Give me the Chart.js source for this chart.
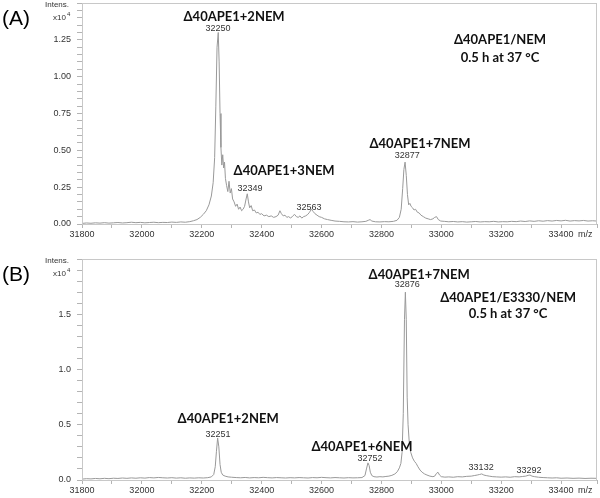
<!DOCTYPE html>
<html>
<head>
<meta charset="utf-8">
<script src="https://cdn.jsdelivr.net/npm/chart.js@4/dist/chart.umd.min.js"></script>
<style>
  body { margin: 0; background: #fff; }
  #wrap { position: relative; width: 600px; height: 498px; }
  #wrap canvas { position: absolute; left: 0; }
</style>
</head>
<body>
<div id="wrap">
  <canvas id="specA" width="600" height="249" style="top:0"></canvas>
  <canvas id="specB" width="600" height="242" style="top:256px"></canvas>
</div>
<script>
// spectrum (A): m/z and intensity (x10^4)
var mzA = [31800,31815,31830,31845,31860,31875,31890,31905,31920,31935,31950,31965,31980,31995,32010,32025,32040,32055,32070,32085,
  32100,32115,32130,32145,32160,32172,32184,32195,32205,32215,32224,32232,32238,32243,32247,32251,32255,32258,32261,32264,
  32267,32270,32273,32276,32279,32283,32287,32291,32295,32299,32303,32308,32313,32318,32323,32328,32333,32338,32343,32348,
  32352,32356,32360,32365,32370,32376,32382,32388,32394,32400,32408,32416,32424,32432,32440,32448,32455,32461,32466,32472,
  32478,32484,32490,32497,32504,32510,32516,32522,32528,32534,32540,32547,32554,32560,32566,32572,32578,32585,32592,32600,
  32610,32620,32632,32645,32660,32675,32690,32705,32720,32735,32748,32756,32762,32768,32780,32795,32810,32825,32840,32852,
  32860,32866,32871,32875,32879,32883,32887,32891,32895,32899,32904,32909,32914,32920,32926,32932,32940,32948,32956,32964,
  32972,32978,32984,32990,32998,33010,33025,33040,33055,33070,33085,33100,33115,33130,33145,33160,33175,33190,33205,33220,
  33235,33250,33265,33280,33295,33310,33325,33340,33355,33370,33385,33400,33415,33430,33445,33460,33475,33490,33505,33520];
var intA = [0.004,0.007,0.005,0.008,0.006,0.009,0.006,0.008,0.010,0.007,0.009,0.012,0.009,0.011,0.008,0.010,0.012,0.009,0.011,0.010,
  0.013,0.011,0.014,0.012,0.016,0.022,0.030,0.045,0.065,0.09,0.13,0.19,0.28,0.45,0.80,1.20,1.30,1.10,0.75,0.52,
  0.40,0.47,0.38,0.42,0.31,0.26,0.22,0.29,0.21,0.24,0.17,0.15,0.12,0.135,0.10,0.115,0.09,0.10,0.12,0.17,
  0.205,0.15,0.11,0.125,0.09,0.095,0.075,0.08,0.065,0.07,0.055,0.06,0.05,0.055,0.045,0.05,0.06,0.09,0.07,0.055,
  0.06,0.045,0.05,0.04,0.055,0.065,0.05,0.045,0.055,0.04,0.05,0.055,0.065,0.08,0.10,0.085,0.07,0.06,0.05,0.045,
  0.035,0.03,0.025,0.02,0.018,0.015,0.014,0.016,0.013,0.015,0.018,0.025,0.03,0.02,0.015,0.014,0.016,0.015,0.018,0.025,
  0.045,0.10,0.24,0.37,0.42,0.33,0.20,0.13,0.14,0.12,0.11,0.095,0.10,0.08,0.075,0.06,0.05,0.04,0.035,0.03,
  0.035,0.045,0.05,0.03,0.02,0.018,0.015,0.017,0.014,0.016,0.013,0.015,0.017,0.014,0.016,0.015,0.018,0.014,0.016,0.015,
  0.018,0.016,0.02,0.017,0.021,0.018,0.022,0.019,0.023,0.02,0.024,0.021,0.025,0.02,0.023,0.021,0.024,0.02,0.022,0.02];

// spectrum (B)
var mzB = [31800,31815,31830,31845,31860,31875,31890,31905,31920,31935,31950,31965,31980,31995,32010,32025,32040,32055,32070,32085,
  32100,32115,32130,32145,32160,32175,32190,32205,32220,32232,32240,32245,32249,32253,32257,32261,32265,32270,32278,32288,
  32300,32315,32330,32345,32360,32375,32390,32405,32420,32435,32450,32465,32480,32495,32510,32525,32540,32555,32570,32585,
  32600,32615,32630,32645,32660,32675,32690,32705,32720,32735,32745,32750,32755,32759,32763,32768,32775,32785,32795,32805,
  32815,32825,32835,32845,32853,32860,32865,32869,32873,32877,32880,32883,32886,32889,32893,32898,32904,32910,32916,32922,
  32929,32936,32944,32952,32962,32972,32978,32984,32989,32994,33000,33012,33025,33040,33055,33070,33085,33100,33110,33120,
  33128,33135,33142,33150,33160,33172,33185,33200,33215,33230,33245,33260,33272,33282,33290,33296,33303,33312,33325,33340,
  33355,33370,33385,33400,33420,33440,33460,33480,33500,33520];
var intB = [0.008,0.012,0.010,0.014,0.011,0.015,0.012,0.016,0.014,0.018,0.015,0.019,0.016,0.020,0.017,0.022,0.019,0.023,0.020,0.018,
  0.021,0.017,0.020,0.016,0.019,0.017,0.020,0.018,0.021,0.028,0.05,0.12,0.26,0.38,0.30,0.14,0.07,0.045,0.035,0.028,
  0.025,0.022,0.02,0.023,0.019,0.022,0.02,0.024,0.021,0.019,0.022,0.02,0.018,0.021,0.019,0.022,0.02,0.018,0.022,0.02,
  0.024,0.021,0.019,0.022,0.02,0.018,0.021,0.019,0.02,0.022,0.04,0.10,0.155,0.13,0.07,0.04,0.03,0.027,0.03,0.028,
  0.032,0.035,0.042,0.055,0.075,0.11,0.15,0.25,0.60,1.45,1.70,1.45,0.75,0.50,0.34,0.25,0.20,0.17,0.15,0.12,
  0.09,0.07,0.055,0.045,0.035,0.03,0.035,0.06,0.07,0.045,0.03,0.026,0.028,0.025,0.03,0.028,0.033,0.035,0.04,0.045,
  0.05,0.055,0.045,0.04,0.035,0.03,0.028,0.026,0.028,0.025,0.03,0.028,0.032,0.035,0.042,0.045,0.035,0.03,0.025,0.022,
  0.02,0.018,0.02,0.016,0.018,0.015,0.017,0.014,0.016,0.015];

// text on the plots, anchored in data units (m/z, intensity)
var notesA = [
  { t: 'Δ40APE1+2NEM', x: 32308, y: 1.405, big: true },
  { t: '32250', x: 32254, y: 1.33 },
  { t: 'Δ40APE1/NEM', x: 33196, y: 1.25, big: true },
  { t: '0.5 h at 37 °C', x: 33196, y: 1.127, big: true },
  { t: 'Δ40APE1+3NEM', x: 32475, y: 0.36, big: true },
  { t: '32349', x: 32361, y: 0.238 },
  { t: '32563', x: 32558, y: 0.115 },
  { t: 'Δ40APE1+7NEM', x: 32929, y: 0.543, big: true },
  { t: '32877', x: 32886, y: 0.468 }
];
var notesB = [
  { t: 'Δ40APE1+7NEM', x: 32926, y: 1.855, big: true },
  { t: '32876', x: 32886, y: 1.765 },
  { t: 'Δ40APE1/E3330/NEM', x: 33223, y: 1.647, big: true },
  { t: '0.5 h at 37 °C', x: 33223, y: 1.502, big: true },
  { t: 'Δ40APE1+2NEM', x: 32288, y: 0.552, big: true },
  { t: '32251', x: 32254, y: 0.416 },
  { t: 'Δ40APE1+6NEM', x: 32735, y: 0.299, big: true },
  { t: '32752', x: 32762, y: 0.19 },
  { t: '33132', x: 33133, y: 0.109 },
  { t: '33292', x: 33293, y: 0.09 }
];

var xMin = 31800, xMax = 33520;

//draws frame, panel letter, y title, m/z and peak notes
var decor = {
  id: 'decor',
  afterDraw: function (chart, args, opts) {
    var ctx = chart.ctx, a = chart.chartArea;
    var sx = chart.scales.x, sy = chart.scales.y;
    ctx.save();
    ctx.strokeStyle = '#c8c8c8';
    ctx.lineWidth = 1;
    ctx.strokeRect(a.left + 0.5, a.top + 0.5, a.right - a.left - 1, a.bottom - a.top);

    ctx.fillStyle = '#000';
    ctx.font = '21px "Liberation Sans", Arial, sans-serif';
    ctx.textAlign = 'left';
    ctx.textBaseline = 'middle';
    ctx.fillText(opts.panel, 2, a.top + 16);

    ctx.fillStyle = '#333';
    ctx.font = '8px "Liberation Sans", Arial, sans-serif';
    ctx.fillText('Intens.', 45, a.top + 2);
    ctx.fillText('x10', 53, a.top + 15);
    ctx.font = '6px "Liberation Sans", Arial, sans-serif';
    ctx.fillText('4', 67, a.top + 11);

    ctx.font = '9px "Liberation Sans", Arial, sans-serif';
    ctx.textAlign = 'left';
    ctx.fillText('m/z', 578, a.bottom + 11);

    ctx.textAlign = 'center';
    opts.notes.forEach(function (n) {
      if (n.big) {
        ctx.fillStyle = '#111';
        ctx.font = 'bold 13px Lato, "Open Sans", sans-serif';
      } else {
        ctx.fillStyle = '#333';
        ctx.font = '9px "Liberation Sans", Arial, sans-serif';
      }
      ctx.fillText(n.t, sx.getPixelForValue(n.x), sy.getPixelForValue(n.y));
    });
    ctx.restore();
  }
};

function makeChart(id, mz, inten, yMax, yStep, yMajor, digits, xH, panel, notes) {
  var ctx = document.getElementById(id).getContext('2d');
  return new Chart(ctx, {
    type: 'line',
    data: {
      datasets: [{
        data: mz.map(function (m, i) { return { x: m, y: inten[i] }; }),
        borderColor: '#999999',
        borderWidth: 1,
        pointRadius: 0,
        tension: 0,
        fill: false
      }]
    },
    options: {
      responsive: false,
      animation: false,
      events: [],
      layout: { padding: { top: 3, right: 3, left: 0, bottom: 0 } },
      plugins: {
        legend: { display: false },
        tooltip: { enabled: false },
        decor: { panel: panel, notes: notes }
      },
      scales: {
        x: {
          type: 'linear',
          min: xMin,
          max: xMax,
          afterFit: function (s) { s.height = xH; s.paddingLeft = 0; s.paddingRight = 0; },
          border: { color: '#b4b4b4' },
          grid: { drawOnChartArea: false, tickLength: 4, color: '#b4b4b4' },
          ticks: {
            stepSize: 100,
            autoSkip: false,
            maxRotation: 0,
            padding: 1,
            color: '#333',
            font: { family: '"Liberation Sans", Arial, sans-serif', size: 9 },
            callback: function (v) {
              return (v % 200 === 0 && v <= 33400) ? String(v) : '';
            }
          }
        },
        y: {
          min: 0,
          max: yMax,
          afterFit: function (s) { s.width = 82; s.paddingTop = 0; s.paddingBottom = 0; },
          border: { color: '#b4b4b4' },
          grid: { drawOnChartArea: false, tickLength: 5, color: '#b4b4b4' },
          ticks: {
            stepSize: yStep,
            autoSkip: false,
            padding: 6,
            color: '#333',
            font: { family: '"Liberation Sans", Arial, sans-serif', size: 9 },
            callback: function (v) {
              var k = Math.round(v / yStep);
              var per = Math.round(yMajor / yStep);
              if (k % per === 0 && v < yMax - yStep / 2) return v.toFixed(digits);
              return '';
            }
          }
        }
      }
    },
    plugins: [decor]
  });
}

makeChart('specA', mzA, intA, 1.5, 0.05, 0.25, 2, 25, '(A)', notesA);
makeChart('specB', mzB, intB, 2.0, 0.1, 0.5, 1, 18, '(B)', notesB);
</script>
</body>
</html>
